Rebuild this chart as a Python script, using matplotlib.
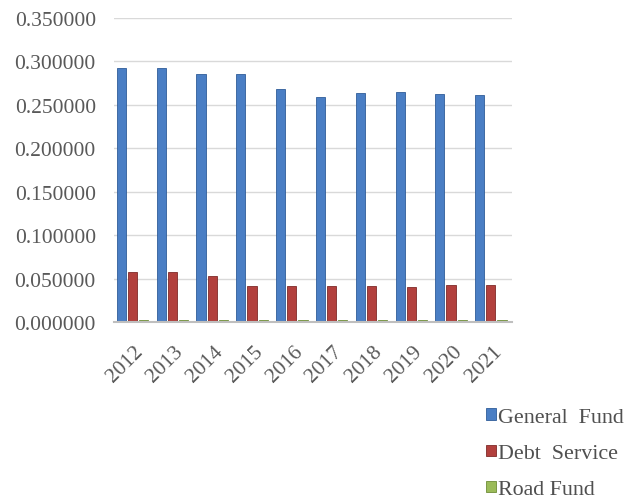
import numpy as np
import matplotlib.pyplot as plt

plt.rcParams["font.family"] = ["Liberation Serif", "DejaVu Serif"]

years = ["2012", "2013", "2014", "2015", "2016", "2017", "2018", "2019", "2020", "2021"]
general_fund = [0.292, 0.292, 0.286, 0.286, 0.268, 0.259, 0.264, 0.265, 0.262, 0.261]
debt_service = [0.057, 0.057, 0.053, 0.042, 0.042, 0.042, 0.042, 0.040, 0.043, 0.043]
road_fund = [0.002, 0.002, 0.002, 0.002, 0.002, 0.002, 0.002, 0.002, 0.002, 0.002]
labels = ["General  Fund", "Debt  Service", "Road Fund"]

colors = ["#4A7EC4", "#B2403D", "#9BBB59"]
edges = ["#2F5C99", "#7F2A28", "#6E8C36"]
txt = "#595959"

fig = plt.figure(figsize=(6.36, 5.02), dpi=100)
ax = fig.add_axes([0.179, 0.3566, 0.626, 0.6056])

x = np.arange(len(years))
w = 0.23
handles = []
for vals, off, c, ec, lab in zip([general_fund, debt_service, road_fund],
                                 [-0.31, -0.03, 0.25], colors, edges, labels):
    b = ax.bar(x + off, vals, w, color=c, edgecolor=ec, linewidth=0.6,
               label=lab, zorder=3)
    handles.append(b)

ax.set_xlim(-0.5, len(years) - 0.5)
ax.set_ylim(0, 0.35)
ax.set_yticks(np.arange(0, 0.351, 0.05))
ax.set_yticklabels(["%.6f" % v for v in np.arange(0, 0.351, 0.05)])
ax.set_xticks(x)
ax.set_xticklabels(years, rotation=45, ha="right", va="top",
                   rotation_mode="anchor")
ax.tick_params(length=0, labelsize=15.5, colors=txt)
ax.tick_params(axis="y", pad=13)
ax.tick_params(axis="x", pad=14)
ax.grid(axis="y", color="#D9D9D9", linewidth=1, zorder=0)
for s in ["left", "right", "top"]:
    ax.spines[s].set_visible(False)
ax.spines["bottom"].set_color("#BFBFBF")
ax.spines["bottom"].set_linewidth(1.5)
ax.spines["bottom"].set_zorder(4)

leg = fig.legend(handles=handles, loc="upper left",
                 bbox_to_anchor=(0.764, 0.185), frameon=False,
                 fontsize=15.8, labelcolor="#505050", handlelength=0.45,
                 handleheight=0.45, handletextpad=0.1, labelspacing=0.78,
                 borderpad=0, borderaxespad=0)

fig.savefig("out.png", dpi=100)
